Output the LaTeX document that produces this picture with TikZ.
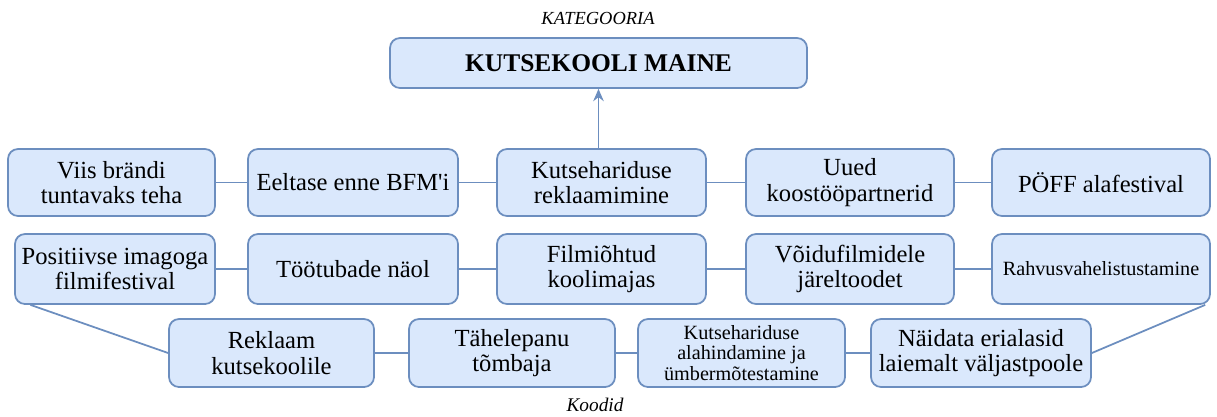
\documentclass[tikz,border=0pt]{standalone}
\usepackage{fontspec}
\setmainfont{LiberationSerif}[Extension=.ttf, UprightFont=*-Regular,
  BoldFont=*-Bold, ItalicFont=*-Italic, BoldItalicFont=*-BoldItalic]
\usetikzlibrary{arrows.meta}
\definecolor{boxfill}{HTML}{DAE8FC}
\definecolor{boxline}{HTML}{6C8EBF}
\begin{document}
\begin{tikzpicture}[x=0.02cm, y=-0.02cm,
    box/.style 2 args={draw=boxline, fill=boxfill, line width=1pt,
      rounded corners=0.2cm, align=center, inner sep=0pt,
      font=\fontsize{14}{14.5}\selectfont,
      minimum width=#1*0.02cm, minimum height=#2*0.02cm},
    small/.style={font=\fontsize{11.5}{11.8}\selectfont},
    link/.style={draw=boxline, line width=1pt}]
      \useasboundingbox (0,0) rectangle (1217,416);
      % category
      \node[font=\fontsize{10.5}{12}\selectfont\itshape] (kat) at (598,18) {KATEGOORIA};
      \node[box={417}{50}, font=\fontsize{14.5}{16}\selectfont\bfseries] (maine) at (598.5,63) {KUTSEKOOLI MAINE};
      % first row
      \node[box={207}{67}] (a1) at (111.5,182.5) {Viis brändi\\tuntavaks teha};
      \node[box={210}{67}] (a2) at (353,182.5) {Eeltase enne BFM\textquotesingle i};
      \node[box={209}{67}] (a3) at (601.5,182.5) {Kutsehariduse\\reklaamimine};
      \node[box={208}{67}] (a4) at (850,182.5) {Uued\\koostööpartnerid};
      \node[box={218}{67}] (a5) at (1101,182.5) {PÖFF alafestival};
      % second row
      \node[box={200}{70}] (b1) at (115,269) {Positiivse imagoga\\filmifestival};
      \node[box={210}{70}] (b2) at (353,269) {Töötubade näol};
      \node[box={209}{70}] (b3) at (601.5,269) {Filmiõhtud\\koolimajas};
      \node[box={208}{70}] (b4) at (850,269) {Võidufilmidele\\järeltoodet};
      \node[box={218}{70}, small] (b5) at (1101,269) {Rahvusvahelistustamine};
      % third row
      \node[box={205}{68}] (c1) at (271.5,353) {Reklaam\\kutsekoolile};
      \node[box={206}{68}] (c2) at (512,353) {Tähelepanu\\tõmbaja};
      \node[box={207}{68}, small] (c3) at (741.5,353) {Kutsehariduse\\alahindamine ja\\ümbermõtestamine};
      \node[box={220}{68}] (c4) at (981,353) {Näidata erialasid\\laiemalt väljastpoole};
      \node[font=\fontsize{11}{12}\selectfont\itshape] (kood) at (595,405) {Koodid};
      % links
      \draw[link, -{Stealth[length=7pt, width=6pt]}] (maine.south |- a3.north) -- (maine.south);
      \draw[link] (a1) -- (a2) -- (a3) -- (a4) -- (a5);
      \draw[link] (b1) -- (b2) -- (b3) -- (b4) -- (b5);
      \draw[link] (c1) -- (c2) -- (c3) -- (c4);
      \draw[link] (b1.203) -- (c1.west);
      \draw[link] (b5.-19) -- (c4.east);
    \end{tikzpicture}
\end{document}
